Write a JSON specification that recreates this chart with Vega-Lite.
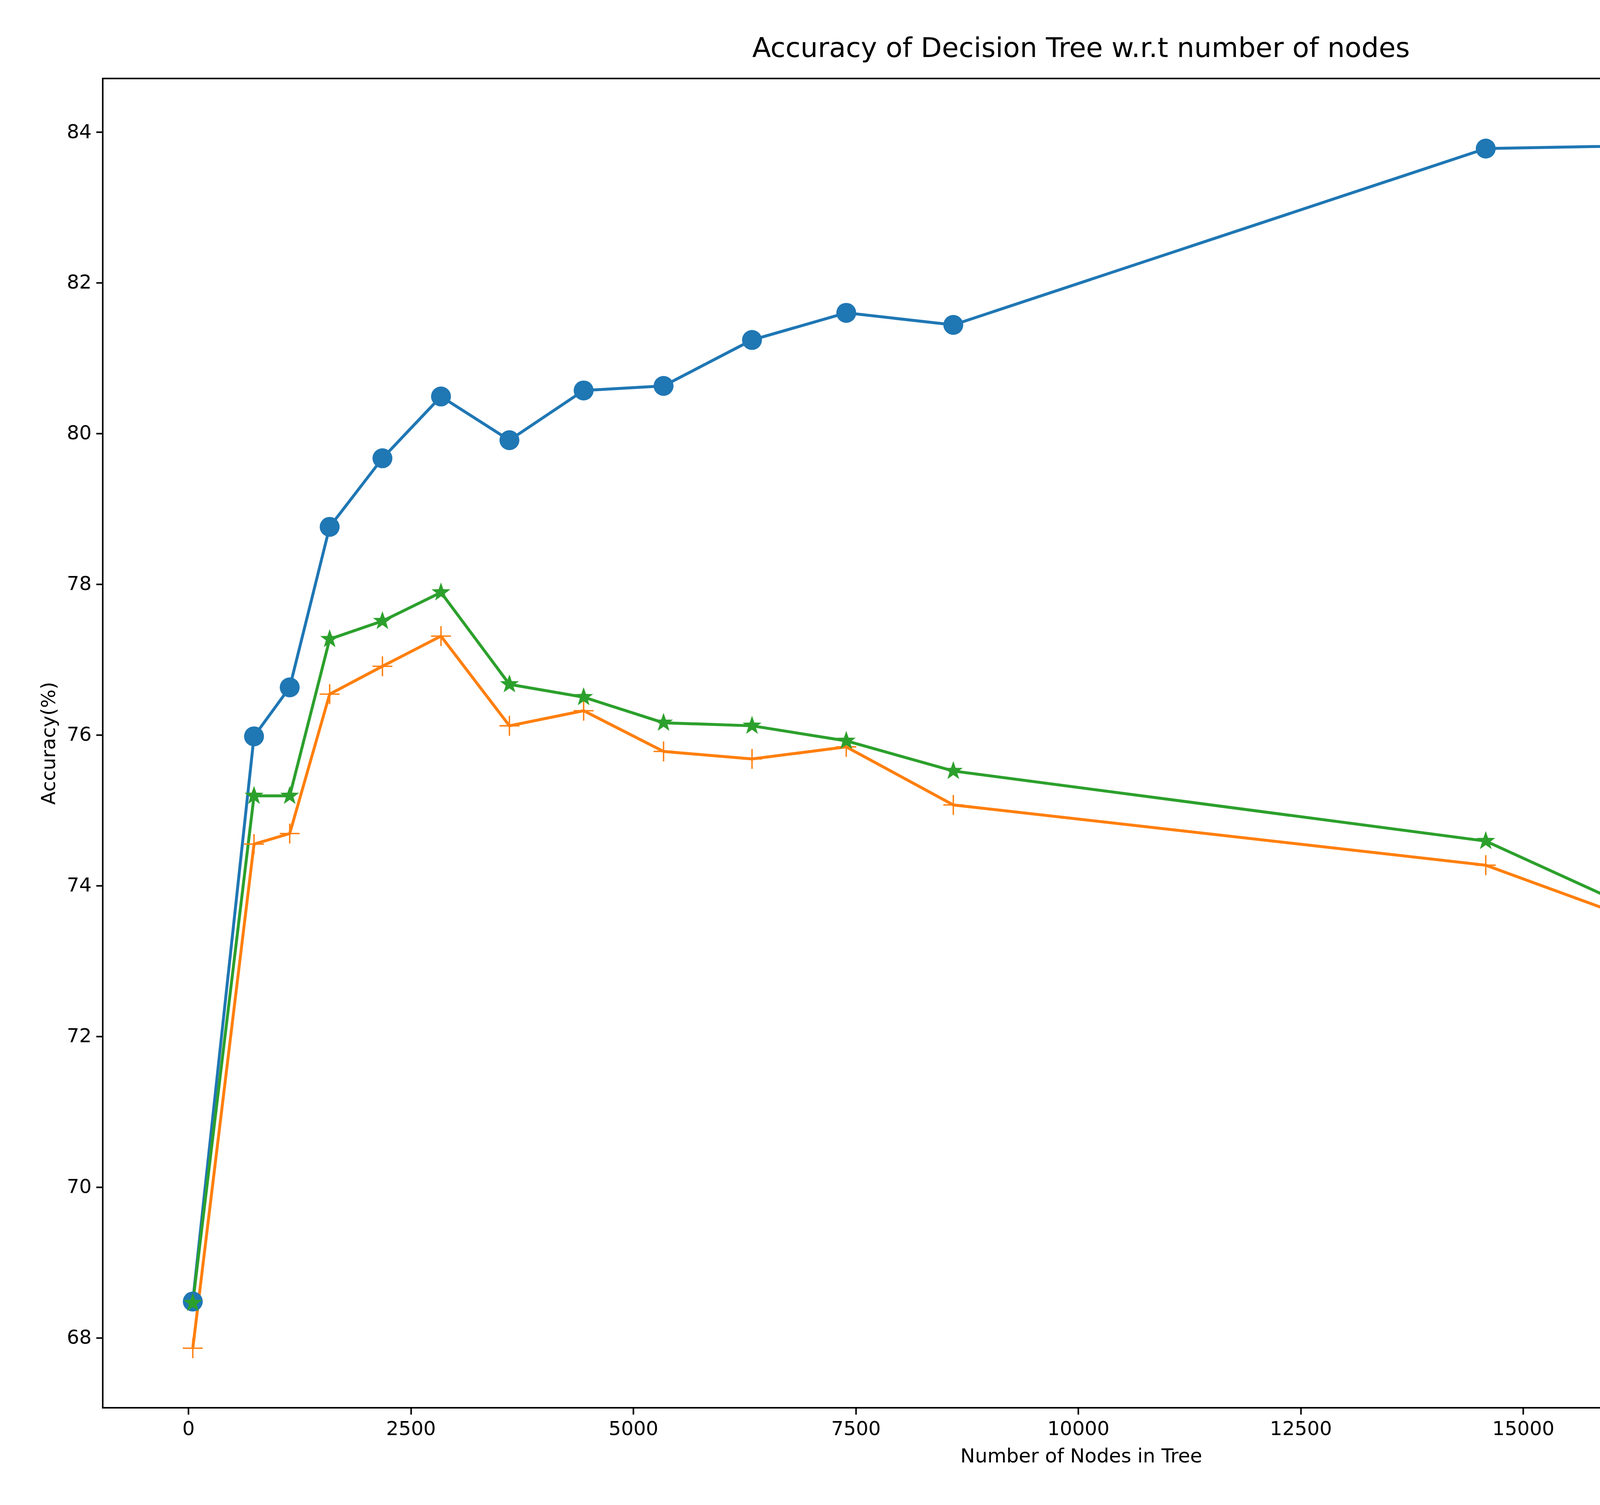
{
"$schema":"https://vega.github.io/schema/vega-lite/v6.json",
"autosize":{"type":"fit","contains":"padding"},"width":5324,"height":3854,
"padding":{"left":100,"top":90,"right":52,"bottom":100},
"background":"white",
"config":{"font":"DejaVu Sans","view":{"stroke":"black","strokeWidth":4},
"axis":{"grid":false,"domain":false,"tickColor":"black","tickWidth":4,"tickSize":17,"labelFontSize":50,"titleFontSize":50,"labelColor":"black","titleColor":"black","titleFontWeight":"normal","labelPadding":12,"titlePadding":20}},
"title":{"text":"Accuracy of Decision Tree w.r.t number of nodes","fontSize":70,"fontWeight":"normal","color":"black","offset":40},
"data":{"values":[
{"n":50,"s":"Train Accuracy","a":68.48},{"n":738,"s":"Train Accuracy","a":75.98},{"n":1139,"s":"Train Accuracy","a":76.63},{"n":1588,"s":"Train Accuracy","a":78.76},{"n":2181,"s":"Train Accuracy","a":79.67},{"n":2839,"s":"Train Accuracy","a":80.49},{"n":3608,"s":"Train Accuracy","a":79.91},{"n":4442,"s":"Train Accuracy","a":80.57},{"n":5340,"s":"Train Accuracy","a":80.63},{"n":6334,"s":"Train Accuracy","a":81.24},{"n":7393,"s":"Train Accuracy","a":81.6},{"n":8596,"s":"Train Accuracy","a":81.44},{"n":14579,"s":"Train Accuracy","a":83.78},{"n":20000,"s":"Train Accuracy","a":83.9},
{"n":50,"s":"Val Accuracy","a":67.86},{"n":738,"s":"Val Accuracy","a":74.55},{"n":1139,"s":"Val Accuracy","a":74.69},{"n":1588,"s":"Val Accuracy","a":76.54},{"n":2181,"s":"Val Accuracy","a":76.91},{"n":2839,"s":"Val Accuracy","a":77.31},{"n":3608,"s":"Val Accuracy","a":76.12},{"n":4442,"s":"Val Accuracy","a":76.32},{"n":5340,"s":"Val Accuracy","a":75.78},{"n":6334,"s":"Val Accuracy","a":75.68},{"n":7393,"s":"Val Accuracy","a":75.84},{"n":8596,"s":"Val Accuracy","a":75.07},{"n":14579,"s":"Val Accuracy","a":74.27},{"n":20000,"s":"Val Accuracy","a":71.93},
{"n":50,"s":"Test Accuracy","a":68.46},{"n":738,"s":"Test Accuracy","a":75.19},{"n":1139,"s":"Test Accuracy","a":75.19},{"n":1588,"s":"Test Accuracy","a":77.27},{"n":2181,"s":"Test Accuracy","a":77.51},{"n":2839,"s":"Test Accuracy","a":77.89},{"n":3608,"s":"Test Accuracy","a":76.67},{"n":4442,"s":"Test Accuracy","a":76.5},{"n":5340,"s":"Test Accuracy","a":76.16},{"n":6334,"s":"Test Accuracy","a":76.12},{"n":7393,"s":"Test Accuracy","a":75.92},{"n":8596,"s":"Test Accuracy","a":75.52},{"n":14579,"s":"Test Accuracy","a":74.59},{"n":20000,"s":"Test Accuracy","a":71.67}
]},
"encoding":{
"x":{"field":"n","type":"quantitative","title":"Number of Nodes in Tree","scale":{"domain":[-962,21025],"nice":false,"zero":false},"axis":{"values":[0,2500,5000,7500,10000,12500,15000,17500,20000],"format":"d"}},
"y":{"field":"a","type":"quantitative","title":"Accuracy(%)","scale":{"domain":[67.07,84.71],"nice":false,"zero":false},"axis":{"values":[68,70,72,74,76,78,80,82,84]}},
"color":{"field":"s","type":"nominal","scale":{"domain":["Train Accuracy","Val Accuracy","Test Accuracy"],"range":["#1f77b4","#ff7f0e","#2ca02c"]},"title":null}
},
"layer":[
{"mark":{"type":"line","strokeWidth":7.5}},
{"mark":{"type":"point","filled":true,"opacity":1},
"encoding":{
"shape":{"field":"s","type":"nominal","title":null,"scale":{"domain":["Train Accuracy","Val Accuracy","Test Accuracy"],"range":["circle","M-1,-0.07L1,-0.07L1,0.07L-1,0.07Z M-0.07,-1L0.07,-1L0.07,1L-0.07,1Z","M0,-1L0.235,-0.324L0.951,-0.309L0.38,0.124L0.588,0.809L0,0.4L-0.588,0.809L-0.38,0.124L-0.951,-0.309L-0.235,-0.324Z"]},
"legend":{"orient":"bottom-right","offset":60,"labelFontSize":50,"symbolSize":2600,"rowPadding":28,"padding":35,"strokeColor":"#cccccc","fillColor":"white","cornerRadius":10,"labelColor":"black","labelOffset":40}},
"size":{"value":2600}}}
]
}
